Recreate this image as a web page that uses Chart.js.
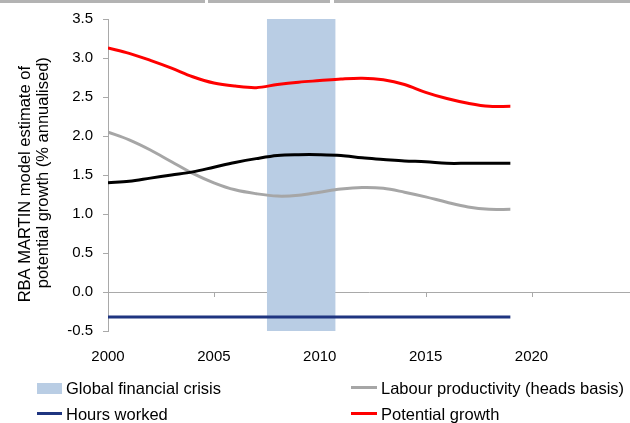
<!DOCTYPE html>
<html>
<head>
<meta charset="utf-8">
<script src="https://cdn.jsdelivr.net/npm/chart.js@4.4.1/dist/chart.umd.min.js"></script>
<style>
  html, body { margin: 0; padding: 0; background: #fff; overflow: hidden; }
  #wrap { position: relative; width: 630px; height: 423px; }
  #topstrip { position: absolute; left: 0; top: 0; width: 630px; height: 3px; background: #b3b3b3; }
  .gap { position: absolute; top: 0; height: 3px; background: #fff; }
  #legend { position: absolute; left: 0; top: 0; width: 630px; height: 423px; pointer-events: none;
            font-family: "Liberation Sans", Arial, sans-serif; font-size: 16.5px; color: #000; }
  .item { position: absolute; display: flex; align-items: center; height: 20px; white-space: nowrap; }
  .sw { display: inline-block; }
</style>
</head>
<body>
<div id="wrap">
  <canvas id="c" width="630" height="423"></canvas>
  <div id="topstrip"><div class="gap" style="left:205px;width:3px"></div><div class="gap" style="left:330px;width:4px"></div></div>
  <div id="legend"></div>
</div>
<script>
// ---- data ----
const years = [2000, 2001, 2002, 2003, 2004, 2005, 2006, 2007, 2008, 2009,
               2010, 2011, 2012, 2013, 2014, 2015, 2016, 2017, 2018, 2019];
const potentialGrowth = [3.13, 3.06, 2.97, 2.87, 2.76, 2.68, 2.64, 2.62, 2.66, 2.69,
                         2.71, 2.73, 2.74, 2.72, 2.66, 2.56, 2.48, 2.42, 2.38, 2.38];
const blackSeries = [1.40, 1.42, 1.46, 1.50, 1.54, 1.60, 1.66, 1.71, 1.75, 1.76,
                     1.76, 1.75, 1.72, 1.70, 1.68, 1.67, 1.65, 1.65, 1.65, 1.65];
const labourProductivity = [2.05, 1.95, 1.82, 1.67, 1.52, 1.40, 1.31, 1.26, 1.23, 1.24,
                            1.28, 1.32, 1.34, 1.33, 1.28, 1.22, 1.15, 1.09, 1.06, 1.06];
const hoursWorked = [-0.32, -0.32, -0.32, -0.32, -0.32, -0.32, -0.32, -0.32, -0.32, -0.32,
                     -0.32, -0.32, -0.32, -0.32, -0.32, -0.32, -0.32, -0.32, -0.32, -0.32];
const gfcPeriod = [2007.5, 2010.75];
const xTicks = [2000, 2005, 2010, 2015, 2020];
const yTicks = [-0.5, 0, 0.5, 1.0, 1.5, 2.0, 2.5, 3.0, 3.5];
const yTitle = ["RBA MARTIN model estimate of    ", " potential growth (% annualised)"];
const legendLabels = ["Global financial crisis", "Labour productivity (heads basis)", "Hours worked", "Potential growth"];

const FONT = '"Liberation Sans", Arial, sans-serif';
const pts = arr => years.map((x, i) => ({ x: x, y: arr[i] }));
const yMin = yTicks[0], yMax = yTicks[yTicks.length - 1];

const zeroTicks = {
  id: 'zeroTicks',
  beforeDatasetsDraw(chart) {
    const xs = chart.scales.x, ys = chart.scales.y, ctx = chart.ctx;
    const y0 = ys.getPixelForValue(0);
    ctx.save();
    ctx.strokeStyle = '#a9a9a9';
    ctx.lineWidth = 1;
    ctx.beginPath();
    xTicks.forEach(v => {
      const px = Math.round(xs.getPixelForValue(v)) + 0.5;
      ctx.moveTo(px, y0);
      ctx.lineTo(px, y0 + 5);
    });
    ctx.stroke();
    ctx.restore();
  }
};

const colors = { gfc: '#b9cde4', lp: '#a6a6a6', hw: '#1f3580', pg: '#ff0000', black: '#000000' };

new Chart(document.getElementById('c'), {
  type: 'line',
  data: {
    datasets: [
      { label: legendLabels[3], data: pts(potentialGrowth), borderColor: colors.pg, borderWidth: 3, pointRadius: 0, tension: 0.35, fill: false },
      { label: 'unlabelled', data: pts(blackSeries), borderColor: colors.black, borderWidth: 3, pointRadius: 0, tension: 0.35, fill: false },
      { label: legendLabels[1], data: pts(labourProductivity), borderColor: colors.lp, borderWidth: 3, pointRadius: 0, tension: 0.35, fill: false },
      { label: legendLabels[2], data: pts(hoursWorked), borderColor: colors.hw, borderWidth: 3, pointRadius: 0, tension: 0, fill: false },
      { label: legendLabels[0], data: gfcPeriod.map(x => ({ x: x, y: yMax })), borderWidth: 0, borderColor: 'rgba(0,0,0,0)',
        backgroundColor: colors.gfc, pointRadius: 0, fill: { value: yMin } }
    ]
  },
  options: {
    responsive: false,
    animation: false,
    events: [],
    layout: { padding: { top: 16, right: 0, bottom: 0, left: 0 } },
    plugins: { legend: { display: false }, tooltip: { enabled: false }, title: { display: false } },
    scales: {
      x: {
        type: 'linear', min: 2000, max: 2024.65,
        afterBuildTicks: s => { s.ticks = xTicks.map(v => ({ value: v })); },
        afterFit: s => { s.height = 92; },
        grid: { display: false, drawTicks: false },
        border: { display: false },
        ticks: { padding: 17, color: '#000', font: { family: FONT, size: 15 }, maxRotation: 0, callback: v => String(v) }
      },
      y: {
        min: yMin, max: yMax,
        afterBuildTicks: s => { s.ticks = yTicks.map(v => ({ value: v })); },
        afterFit: s => { s.width = 108; },
        border: { display: true, color: '#a9a9a9', width: 1 },
        grid: {
          color: c => (c.tick && c.tick.value === 0) ? '#a9a9a9' : 'rgba(0,0,0,0)',
          tickColor: '#a9a9a9', tickLength: 5, drawTicks: true, lineWidth: 1
        },
        ticks: { padding: 10, color: '#000', font: { family: FONT, size: 15 }, callback: v => Number(v).toFixed(1) },
        title: { display: true, text: yTitle, color: '#000', font: { family: FONT, size: 16.5, lineHeight: 1.1 }, padding: { top: 16, bottom: 4 } }
      }
    }
  },
  plugins: [zeroTicks]
});

// ---- HTML legend ----
const lg = document.getElementById('legend');
const items = [
  { label: legendLabels[0], type: 'box', color: colors.gfc, x: 37, tx: 66, y: 388.5 },
  { label: legendLabels[1], type: 'line', color: colors.lp, x: 351, tx: 381, y: 388.5 },
  { label: legendLabels[2], type: 'line', color: colors.hw, x: 37, tx: 66, y: 414 },
  { label: legendLabels[3], type: 'line', color: colors.pg, x: 351, tx: 381, y: 414 }
];
items.forEach(it => {
  const d = document.createElement('div');
  d.className = 'item';
  d.style.left = it.x + 'px';
  d.style.top = (it.y - 10) + 'px';
  const sw = document.createElement('span');
  sw.className = 'sw';
  const w = it.x === 37 ? 25 : 26;
  sw.style.width = w + 'px';
  sw.style.height = it.type === 'box' ? '11px' : '3px';
  sw.style.marginRight = (it.tx - it.x - w) + 'px';
  if (it.type === 'line') sw.style.marginTop = '-2px';
  sw.style.background = it.color;
  d.appendChild(sw);
  const t = document.createElement('span');
  t.textContent = it.label;
  d.appendChild(t);
  lg.appendChild(d);
});
</script>
</body>
</html>
